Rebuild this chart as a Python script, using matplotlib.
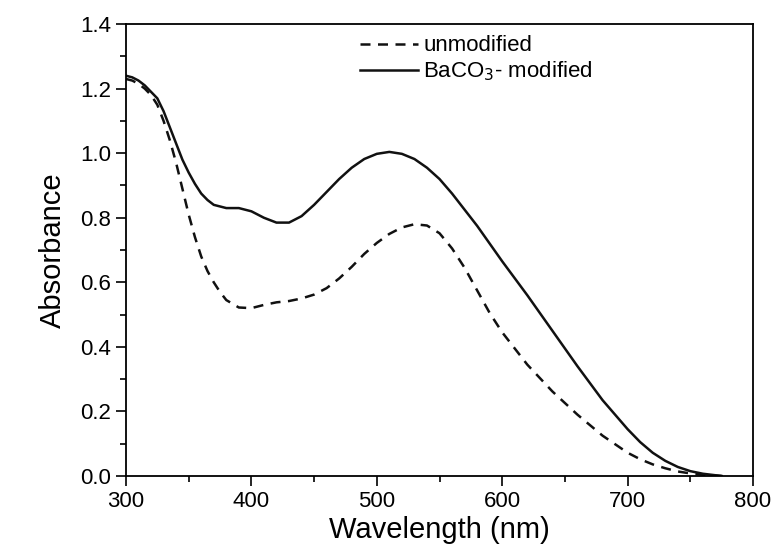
import matplotlib
matplotlib.use("Agg")
import matplotlib.pyplot as plt
from matplotlib.ticker import MultipleLocator, FormatStrFormatter

plt.rcParams['font.family'] = ['Liberation Sans', 'DejaVu Sans']

wl_mod = [300, 305, 310, 315, 320, 325, 330, 335, 340, 345, 350, 355, 360, 365,
          370, 380, 390, 400, 410, 420, 430, 440, 450, 460, 470, 480, 490, 500,
          510, 520, 530, 540, 550, 560, 570, 580, 590, 600, 620, 640, 660, 680,
          700, 710, 720, 730, 740, 750, 760, 775]
abs_mod = [1.24, 1.235, 1.225, 1.21, 1.19, 1.17, 1.13, 1.08, 1.03, 0.98, 0.94,
           0.905, 0.875, 0.855, 0.84, 0.83, 0.83, 0.82, 0.80, 0.785, 0.785, 0.805,
           0.84, 0.88, 0.92, 0.955, 0.982, 0.998, 1.004, 0.998, 0.982, 0.955,
           0.92, 0.875, 0.825, 0.775, 0.72, 0.665, 0.56, 0.45, 0.34, 0.235, 0.145,
           0.105, 0.072, 0.047, 0.028, 0.015, 0.007, 0.0]

wl_unmod = [300, 305, 310, 315, 320, 325, 330, 335, 340, 345, 350, 355, 360, 365,
            370, 375, 380, 390, 400, 410, 420, 430, 440, 450, 460, 470, 480, 490,
            500, 510, 520, 530, 540, 550, 560, 570, 580, 590, 600, 620, 640, 660,
            680, 700, 710, 720, 730, 740, 750, 760, 775]
abs_unmod = [1.23, 1.225, 1.215, 1.20, 1.18, 1.15, 1.10, 1.04, 0.97, 0.89, 0.81,
             0.74, 0.68, 0.635, 0.60, 0.57, 0.545, 0.522, 0.52, 0.53, 0.538, 0.542,
             0.55, 0.562, 0.582, 0.612, 0.648, 0.688, 0.722, 0.75, 0.77, 0.78,
             0.776, 0.752, 0.705, 0.645, 0.575, 0.505, 0.445, 0.345, 0.262, 0.19,
             0.125, 0.072, 0.052, 0.036, 0.024, 0.014, 0.008, 0.004, 0.0]

fig = plt.figure(figsize=(7.79, 5.60), dpi=100)
ax = fig.add_axes([0.1617, 0.15, 0.805, 0.807])

ax.plot(wl_unmod, abs_unmod, color='#111111', lw=1.8, linestyle=(0, (4, 3)),
        label='unmodified')
ax.plot(wl_mod, abs_mod, color='#111111', lw=1.8, label='BaCO$_3$- modified')

ax.set_xlim(300, 800)
ax.set_ylim(0, 1.4)
ax.xaxis.set_major_locator(MultipleLocator(100))
ax.xaxis.set_minor_locator(MultipleLocator(50))
ax.yaxis.set_major_locator(MultipleLocator(0.2))
ax.yaxis.set_minor_locator(MultipleLocator(0.1))
ax.yaxis.set_major_formatter(FormatStrFormatter('%.1f'))
ax.tick_params(which='major', direction='out', length=7, width=1.2,
               labelsize=16, top=False, right=False)
ax.tick_params(which='minor', direction='out', length=4, width=1.2,
               top=False, right=False)
for s in ax.spines.values():
    s.set_linewidth(1.3)

ax.set_xlabel('Wavelength (nm)', fontsize=21, labelpad=3)
ax.set_ylabel('Absorbance', fontsize=21, labelpad=10)

ax.legend(loc='upper left', bbox_to_anchor=(0.373, 0.975), frameon=False,
          borderaxespad=0, borderpad=0,
          fontsize=16, handlelength=2.6, handletextpad=0.25, labelspacing=0.15)

fig.savefig('out.png', dpi=100)
